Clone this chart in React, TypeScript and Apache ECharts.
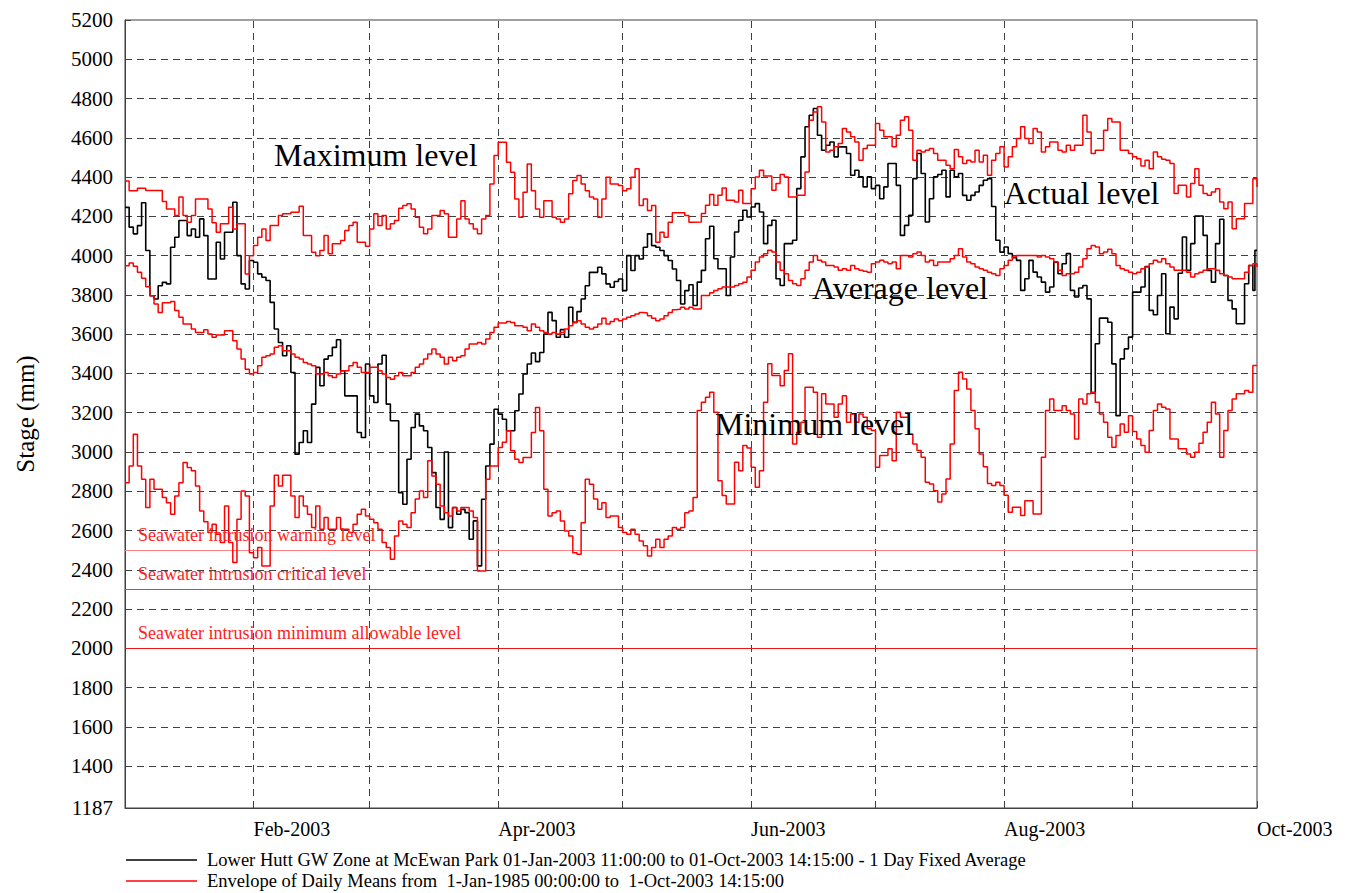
import React, { useEffect, useRef } from 'react';
import * as echarts from 'echarts';

// ---------- axes / labels ----------
const monthStarts = [0, 31, 59, 90, 120, 151, 181, 212, 243, 273];
const gridMonthLines = [31, 59, 90, 120, 151, 181, 212, 243];
const xLabelDays = [31, 90, 151, 212, 273];
const xLabelTexts = ['Feb-2003', 'Apr-2003', 'Jun-2003', 'Aug-2003', 'Oct-2003'];
const yTickValues = [1187, 1400, 1600, 1800, 2000, 2200, 2400, 2600, 2800, 3000, 3200, 3400, 3600, 3800, 4000, 4200, 4400, 4600, 4800, 5000, 5200];
const gridLevelLines = [1400, 1600, 1800, 2000, 2200, 2400, 2600, 2800, 3000, 3200, 3400, 3600, 3800, 4000, 4200, 4400, 4600, 4800, 5000];

const seawaterLevels = [2500, 2300, 2000];
const seawaterLabels = [
  'Seawater intrusion warning level',
  'Seawater intrusion critical level',
  'Seawater intrusion minimum allowable level',
];
const seawaterColors = ['#ff8080', '#ff3030', '#e81818'];

const legendTexts = [
  'Lower Hutt GW Zone at McEwan Park 01-Jan-2003 11:00:00 to 01-Oct-2003 14:15:00 - 1 Day Fixed Average',
  'Envelope of Daily Means from  1-Jan-1985 00:00:00 to  1-Oct-2003 14:15:00',
];

// ---------- data: [day since 1-Jan-2003, stage mm] (step values) ----------
const actualLevel: [number, number][] = [
  [0, 4246], [1, 4145], [2, 4111], [3, 4153], [4, 4269], [5, 4026], [6, 3796], [7, 3779], [8, 3847], [9, 3864],
  [10, 3856], [11, 4043], [12, 4094], [13, 4179], [15, 4102], [16, 4136], [17, 4094], [18, 4187], [19, 4102], [20, 3881],
  [22, 4068], [23, 3983], [24, 4119], [26, 4272], [27, 4000], [28, 3856], [29, 3830], [30, 3975], [31, 3966], [32, 3907],
  [33, 3890], [34, 3873], [35, 3762], [36, 3626], [37, 3558], [38, 3490], [39, 3541], [40, 3405], [41, 2989], [42, 3048],
  [43, 3108], [44, 3048], [45, 3244], [46, 3431], [47, 3337], [48, 3473], [49, 3490], [50, 3533], [51, 3572], [52, 3414],
  [53, 3286], [56, 3099], [57, 3074], [58, 3448], [59, 3286], [60, 3252], [61, 3448], [62, 3493], [63, 3244], [64, 3159],
  [66, 2793], [67, 2734], [68, 2963], [69, 3125], [70, 3193], [71, 3133], [72, 3108], [73, 3023], [74, 2895], [75, 2717],
  [76, 2657], [77, 3000], [78, 2615], [79, 2717], [80, 2683], [81, 2708], [82, 2691], [83, 2556], [84, 2649], [85, 2420],
  [86, 2759], [87, 2929], [88, 3040], [89, 3218], [90, 3193], [91, 3167], [92, 3108], [94, 3210], [95, 3295], [96, 3397],
  [97, 3448], [98, 3504], [99, 3460], [100, 3507], [101, 3601], [102, 3711], [103, 3669], [104, 3584], [105, 3623], [106, 3584],
  [107, 3737], [108, 3660], [109, 3715], [110, 3779], [111, 3847], [112, 3915], [114, 3941], [115, 3907], [116, 3856], [117, 3839],
  [118, 3868], [119, 3881], [120, 3822], [121, 4000], [122, 3924], [123, 4000], [124, 3983], [125, 4043], [126, 4111], [127, 4051],
  [128, 4043], [129, 4026], [130, 4000], [131, 3975], [132, 3932], [133, 3873], [134, 3754], [135, 3822], [136, 3852], [137, 3746],
  [138, 3865], [139, 3925], [140, 4086], [141, 4150], [142, 3984], [143, 3933], [145, 3797], [146, 3993], [147, 4120], [148, 4180],
  [149, 4231], [150, 4197], [151, 4248], [152, 4265], [153, 4222], [154, 4061], [155, 4154], [156, 4180], [157, 3882], [158, 3848],
  [159, 4061], [161, 4078], [162, 4341], [163, 4503], [164, 4656], [165, 4715], [166, 4749], [167, 4613], [168, 4537], [169, 4562],
  [170, 4579], [171, 4503], [172, 4554], [174, 4520], [175, 4409], [176, 4435], [177, 4401], [178, 4350], [179, 4401], [180, 4341],
  [181, 4358], [182, 4290], [183, 4350], [184, 4469], [186, 4358], [187, 4103], [188, 4154], [189, 4205], [190, 4392], [191, 4520],
  [192, 4418], [193, 4171], [194, 4290], [195, 4401], [196, 4413], [197, 4435], [198, 4299], [199, 4435], [200, 4401], [201, 4418],
  [202, 4307], [203, 4282], [204, 4307], [205, 4324], [206, 4358], [207, 4384], [208, 4392], [209, 4250], [210, 4078], [211, 4018],
  [212, 4044], [213, 4010], [214, 3990], [215, 3976], [216, 3823], [217, 3882], [218, 3976], [219, 3916], [220, 3891], [221, 3865],
  [222, 3814], [223, 3840], [224, 3967], [225, 3908], [226, 3959], [227, 4010], [228, 3823], [229, 3789], [230, 3835], [231, 3848],
  [232, 3780], [233, 3301], [234, 3551], [235, 3682], [237, 3661], [238, 3449], [239, 3185], [240, 3474], [241, 3525], [242, 3585],
  [243, 3814], [245, 3840], [246, 3945], [247, 3721], [248, 3699], [249, 3797], [250, 3908], [251, 3602], [252, 3738], [253, 3678],
  [254, 3910], [255, 4095], [256, 3925], [257, 4061], [258, 4202], [260, 4103], [261, 3925], [262, 3865], [263, 4061], [264, 4185],
  [265, 3899], [266, 3772], [267, 3729], [268, 3653], [270, 3857], [271, 3950], [272, 3823], [272.5, 4027], [273, 4027],
];

const maxLevel: [number, number][] = [
  [0, 4380], [1, 4330], [3, 4343], [5, 4332], [9, 4276], [10, 4238], [12, 4204], [13, 4298], [14, 4204], [15, 4170],
  [16, 4204], [17, 4289], [20, 4238], [21, 4167], [22, 4119], [23, 4162], [25, 4247], [26, 4136], [27, 4162], [29, 3907],
  [30, 4000], [31, 4051], [32, 4094], [33, 4136], [34, 4077], [35, 4153], [37, 4204], [38, 4213], [40, 4221], [42, 4252],
  [43, 4102], [45, 4017], [46, 4000], [47, 4026], [48, 4102], [49, 4009], [50, 4060], [52, 4077], [53, 4128], [54, 4153],
  [55, 4170], [56, 4068], [58, 4048], [59, 4136], [60, 4213], [61, 4153], [62, 4204], [63, 4136], [64, 4162], [65, 4179],
  [66, 4241], [67, 4255], [68, 4264], [69, 4238], [70, 4196], [71, 4145], [72, 4111], [73, 4136], [74, 4204], [76, 4230],
  [77, 4213], [78, 4094], [80, 4187], [81, 4280], [82, 4187], [83, 4162], [84, 4136], [85, 4111], [86, 4187], [87, 4204],
  [88, 4365], [89, 4510], [90, 4578], [92, 4476], [93, 4425], [94, 4289], [95, 4196], [96, 4323], [97, 4467], [98, 4331],
  [99, 4238], [100, 4196], [101, 4280], [103, 4196], [104, 4187], [105, 4170], [106, 4187], [107, 4315], [108, 4382], [109, 4408],
  [110, 4365], [111, 4331], [112, 4298], [113, 4289], [114, 4196], [115, 4289], [116, 4399], [117, 4365], [119, 4357], [120, 4331],
  [121, 4340], [122, 4399], [123, 4442], [124, 4255], [125, 4289], [126, 4230], [127, 4255], [128, 4068], [129, 4119], [130, 4094],
  [131, 4170], [132, 4218], [135, 4204], [136, 4170], [137, 4171], [139, 4214], [140, 4256], [141, 4311], [142, 4256], [143, 4307],
  [144, 4345], [145, 4282], [147, 4273], [148, 4333], [149, 4265], [151, 4341], [152, 4401], [153, 4435], [154, 4406], [156, 4333],
  [157, 4367], [158, 4413], [159, 4401], [160, 4299], [162, 4307], [164, 4426], [165, 4690], [166, 4732], [167, 4758], [168, 4681],
  [169, 4528], [170, 4537], [171, 4554], [172, 4571], [173, 4647], [174, 4630], [175, 4605], [176, 4579], [177, 4486], [178, 4545],
  [179, 4562], [181, 4673], [182, 4639], [183, 4605], [185, 4554], [186, 4613], [187, 4690], [188, 4707], [189, 4639], [190, 4486],
  [191, 4537], [192, 4528], [193, 4537], [194, 4545], [195, 4520], [196, 4486], [198, 4460], [199, 4443], [200, 4540], [201, 4503],
  [202, 4469], [203, 4486], [204, 4477], [205, 4537], [206, 4477], [207, 4511], [208, 4409], [209, 4486], [210, 4520], [211, 4554],
  [212, 4452], [213, 4503], [214, 4554], [215, 4596], [216, 4656], [217, 4596], [218, 4571], [219, 4647], [220, 4630], [221, 4528],
  [222, 4554], [223, 4579], [225, 4537], [226, 4528], [227, 4562], [228, 4537], [229, 4562], [231, 4715], [232, 4630], [233, 4520],
  [234, 4537], [236, 4639], [237, 4698], [238, 4681], [240, 4537], [242, 4520], [243, 4503], [244, 4494], [245, 4457], [246, 4486],
  [247, 4443], [248, 4528], [249, 4503], [250, 4491], [251, 4486], [252, 4469], [253, 4316], [254, 4358], [256, 4299], [257, 4367],
  [258, 4443], [259, 4358], [260, 4316], [261, 4307], [262, 4324], [263, 4341], [264, 4273], [265, 4239], [266, 4273], [267, 4137],
  [268, 4188], [270, 4265], [272, 4392], [273, 4350],
];

const averageLevel: [number, number][] = [
  [0, 3949], [1, 3963], [2, 3946], [3, 3915], [4, 3885], [5, 3842], [6, 3796], [7, 3754], [8, 3711], [9, 3760],
  [11, 3766], [12, 3720], [13, 3686], [14, 3652], [16, 3626], [17, 3609], [19, 3623], [20, 3601], [21, 3584], [22, 3596],
  [24, 3618], [26, 3567], [27, 3524], [28, 3473], [29, 3422], [30, 3397], [31, 3405], [32, 3439], [33, 3482], [34, 3490],
  [35, 3499], [36, 3533], [37, 3541], [38, 3516], [40, 3499], [41, 3482], [42, 3473], [43, 3456], [44, 3448], [45, 3439],
  [46, 3397], [48, 3405], [49, 3388], [50, 3380], [51, 3397], [52, 3414], [54, 3439], [55, 3456], [56, 3431], [57, 3405],
  [59, 3431], [61, 3414], [62, 3397], [63, 3380], [64, 3371], [65, 3388], [66, 3405], [67, 3388], [69, 3405], [70, 3431],
  [71, 3448], [72, 3473], [73, 3499], [74, 3524], [75, 3499], [76, 3482], [77, 3448], [78, 3482], [79, 3465], [80, 3482],
  [81, 3490], [82, 3524], [83, 3550], [85, 3558], [86, 3550], [87, 3575], [88, 3609], [89, 3635], [90, 3657], [92, 3664],
  [93, 3660], [94, 3643], [96, 3635], [97, 3618], [98, 3652], [99, 3635], [100, 3618], [101, 3609], [102, 3601], [103, 3609],
  [104, 3601], [105, 3609], [106, 3626], [107, 3643], [108, 3660], [109, 3669], [110, 3652], [111, 3635], [112, 3626], [113, 3635],
  [114, 3652], [115, 3681], [116, 3652], [117, 3664], [118, 3677], [119, 3669], [120, 3677], [121, 3686], [122, 3694], [123, 3703],
  [124, 3711], [125, 3708], [126, 3694], [127, 3681], [128, 3669], [129, 3677], [130, 3694], [131, 3711], [132, 3725], [133, 3728],
  [134, 3737], [135, 3728], [136, 3737], [137, 3728], [139, 3797], [141, 3811], [142, 3823], [143, 3831], [144, 3840], [147, 3848],
  [148, 3857], [149, 3865], [150, 3891], [151, 3925], [152, 3967], [153, 3993], [154, 4010], [155, 4027], [156, 4018], [157, 3967],
  [158, 3925], [159, 3908], [160, 3874], [161, 3857], [162, 3848], [163, 3882], [164, 3925], [165, 3967], [166, 4001], [167, 3976],
  [168, 3967], [169, 3950], [171, 3942], [172, 3925], [173, 3933], [174, 3925], [175, 3950], [176, 3933], [177, 3925], [178, 3920],
  [179, 3916], [180, 3959], [181, 3967], [182, 3976], [183, 3967], [184, 3959], [185, 3967], [186, 3933], [187, 4001], [189, 3993],
  [190, 4010], [191, 4018], [192, 4001], [193, 3967], [194, 3976], [195, 3950], [196, 3967], [199, 3984], [200, 4001], [201, 4035],
  [202, 3993], [203, 3967], [204, 3959], [205, 3942], [206, 3933], [207, 3925], [208, 3916], [209, 3908], [210, 3899], [211, 3933],
  [212, 3950], [213, 3976], [214, 3993], [215, 4001], [220, 3993], [221, 4001], [222, 3993], [223, 3984], [224, 3967], [225, 3925],
  [226, 3899], [227, 3908], [229, 3916], [230, 3942], [231, 3984], [232, 4035], [233, 4052], [234, 4044], [235, 4010], [236, 4018],
  [237, 4032], [238, 4010], [239, 3950], [240, 3933], [241, 3925], [242, 3916], [243, 3908], [244, 3916], [245, 3933], [246, 3942],
  [247, 3959], [248, 3976], [249, 3967], [250, 3984], [251, 3959], [252, 3942], [253, 3925], [256, 3916], [257, 3891], [258, 3908],
  [259, 3916], [260, 3925], [261, 3933], [263, 3925], [264, 3908], [265, 3899], [266, 3891], [267, 3882], [270, 3916], [271, 3950],
  [272, 3959], [273, 3942],
];

const minLevel: [number, number][] = [
  [0, 2844], [1, 2929], [2, 3091], [3, 2929], [4, 2861], [5, 2717], [6, 2861], [7, 2810], [9, 2768], [10, 2742],
  [11, 2683], [12, 2776], [13, 2844], [14, 2946], [15, 2921], [16, 2904], [17, 2827], [18, 2700], [19, 2645], [20, 2590],
  [21, 2632], [22, 2581], [23, 2539], [24, 2725], [25, 2539], [26, 2437], [27, 2657], [28, 2802], [29, 2776], [30, 2487],
  [31, 2462], [32, 2513], [33, 2420], [35, 2725], [36, 2881], [37, 2827], [38, 2881], [40, 2776], [41, 2666], [42, 2776],
  [43, 2725], [44, 2683], [45, 2615], [46, 2725], [47, 2606], [48, 2666], [49, 2606], [51, 2666], [52, 2606], [54, 2590],
  [55, 2632], [56, 2683], [57, 2708], [58, 2674], [59, 2657], [60, 2640], [61, 2606], [62, 2539], [63, 2513], [64, 2454],
  [65, 2572], [66, 2649], [67, 2632], [68, 2615], [69, 2691], [70, 2760], [71, 2802], [72, 2768], [73, 2955], [74, 2878],
  [75, 2836], [76, 2725], [77, 2691], [78, 2674], [79, 2717], [80, 2700], [81, 2717], [83, 2700], [84, 2666], [85, 2394],
  [87, 2861], [88, 2929], [90, 3023], [91, 3050], [92, 3108], [93, 3006], [94, 2963], [95, 2946], [96, 2972], [98, 3099],
  [99, 3227], [100, 3108], [101, 2810], [102, 2674], [103, 2691], [104, 2700], [105, 2649], [106, 2598], [107, 2572], [108, 2487],
  [109, 2479], [110, 2640], [111, 2861], [112, 2836], [113, 2760], [114, 2708], [115, 2742], [116, 2666], [117, 2674], [119, 2615],
  [120, 2590], [121, 2581], [122, 2606], [123, 2581], [124, 2547], [125, 2522], [126, 2470], [127, 2513], [128, 2556], [129, 2513],
  [130, 2556], [131, 2572], [132, 2615], [133, 2606], [134, 2615], [135, 2691], [136, 2700], [137, 2768], [138, 3211], [139, 3253],
  [140, 3279], [141, 3304], [142, 3202], [143, 2854], [144, 2778], [145, 2735], [147, 2948], [148, 2905], [149, 3033], [150, 3020],
  [151, 2922], [152, 2820], [153, 2905], [154, 3253], [155, 3449], [156, 3389], [158, 3338], [159, 3415], [160, 3500], [161, 3041],
  [162, 3101], [163, 3152], [164, 3330], [166, 3304], [167, 3075], [168, 3296], [169, 3245], [171, 3177], [172, 3245], [173, 3287],
  [174, 3152], [175, 3194], [176, 3152], [177, 3194], [178, 3177], [179, 3118], [180, 3109], [181, 2922], [182, 2982], [184, 3016],
  [185, 2956], [186, 3202], [187, 3177], [189, 3092], [190, 3041], [191, 3007], [192, 2973], [193, 2846], [194, 2837], [195, 2803],
  [196, 2745], [197, 2786], [198, 2863], [199, 3041], [200, 3313], [201, 3406], [202, 3372], [203, 3321], [204, 3211], [205, 3118],
  [206, 2990], [207, 2925], [208, 2840], [209, 2829], [210, 2846], [211, 2829], [212, 2780], [213, 2693], [214, 2718], [216, 2676],
  [217, 2752], [219, 2684], [221, 2973], [222, 3211], [223, 3270], [224, 3211], [226, 3236], [227, 3211], [228, 3194], [229, 3066],
  [230, 3270], [231, 3245], [232, 3296], [233, 3304], [234, 3253], [235, 3194], [236, 3152], [237, 3075], [238, 3024], [239, 3084],
  [240, 3143], [241, 3101], [242, 3185], [243, 3105], [244, 3066], [245, 3033], [246, 2999], [247, 3109], [248, 3211], [249, 3245],
  [250, 3228], [251, 3219], [252, 3066], [254, 3016], [256, 2990], [257, 2973], [258, 2999], [259, 3045], [260, 3101], [261, 3152],
  [262, 3253], [263, 3194], [264, 2973], [265, 3109], [266, 3211], [267, 3270], [268, 3296], [270, 3313], [271, 3304], [272, 3440],
  [273, 3440],
];

const SERIF = 'Liberation Serif';
const GRID_COLOR = '#404040';

export default function App() {
  const ref = useRef<HTMLDivElement>(null);

  useEffect(() => {
    if (!ref.current) return;
    const chart = echarts.init(ref.current, undefined, { renderer: 'svg' });
    const labelMap: Record<number, string> = {};
    xLabelDays.forEach((d, i) => { labelMap[d] = xLabelTexts[i]; });

    const stepSeries = (name: string, data: [number, number][], color: string, width: number, z: number) => ({
      type: 'line',
      name,
      data,
      step: 'end',
      showSymbol: false,
      symbol: 'none',
      silent: true,
      z,
      lineStyle: { color, width },
      itemStyle: { color },
    });

    const annotation = (text: string, x: number, y: number, size: number, color: string) => ({
      type: 'text',
      x,
      y,
      silent: true,
      z: 100,
      style: {
        text,
        fill: color,
        font: `${size}px ${SERIF}`,
        textAlign: 'left',
        textVerticalAlign: 'middle',
      },
    });

    const option: any = {
      animation: false,
      backgroundColor: '#ffffff',
      textStyle: { fontFamily: SERIF },
      grid: {
        left: 125, right: 97, top: 20, bottom: 85,
        show: true, borderColor: GRID_COLOR, borderWidth: 1,
        outerBoundsMode: 'none',
      },
      xAxis: {
        type: 'value',
        min: 0,
        max: 273,
        axisLine: { show: true, lineStyle: { color: GRID_COLOR, width: 1 } },
        axisTick: { show: true, inside: true, length: 7, customValues: monthStarts, lineStyle: { color: GRID_COLOR } },
        axisLabel: {
          customValues: xLabelDays,
          formatter: (v: number) => labelMap[v] ?? '',
          align: 'left',
          margin: 11,
          fontFamily: SERIF,
          fontSize: 20,
          color: '#000',
          showMinLabel: true,
          showMaxLabel: true,
        },
        splitLine: { show: false },
      },
      yAxis: {
        type: 'value',
        min: 1187,
        max: 5200,
        axisLine: { show: true, lineStyle: { color: GRID_COLOR, width: 1 } },
        axisTick: { show: true, inside: true, length: 6, customValues: yTickValues, lineStyle: { color: GRID_COLOR } },
        axisLabel: {
          customValues: yTickValues,
          formatter: (v: number) => String(Math.round(v)),
          margin: 12,
          fontFamily: SERIF,
          fontSize: 21,
          color: '#000',
          showMinLabel: true,
          showMaxLabel: true,
        },
        splitLine: { show: false },
      },
      series: [
        {
          type: 'line',
          name: 'grid',
          data: [[0, 1187]],
          showSymbol: false,
          symbol: 'none',
          silent: true,
          z: 1,
          lineStyle: { opacity: 0 },
          markLine: {
            silent: true,
            symbol: ['none', 'none'],
            animation: false,
            z: 1,
            label: { show: false },
            lineStyle: { color: GRID_COLOR, width: 1, type: [7, 5] },
            data: [
              ...gridMonthLines.map((d) => ({ xAxis: d })),
              ...gridLevelLines.map((v) => ({ yAxis: v })),
            ],
          },
        },
        {
          type: 'line',
          name: 'seawater',
          data: [[0, 1187]],
          showSymbol: false,
          symbol: 'none',
          silent: true,
          z: 2,
          lineStyle: { opacity: 0 },
          markLine: {
            silent: true,
            symbol: ['none', 'none'],
            animation: false,
            z: 2,
            label: { show: false },
            data: seawaterLevels.map((v, i) => ({
              yAxis: v,
              lineStyle: { color: seawaterColors[i], width: 1.2, type: 'solid' },
            })),
          },
        },
        stepSeries('Actual level', actualLevel, '#000000', 1.6, 3),
        stepSeries('Average level', averageLevel, '#ff0000', 1.5, 4),
        stepSeries('Minimum level', minLevel, '#ff0000', 1.5, 4),
        stepSeries('Maximum level', maxLevel, '#ff0000', 1.5, 4),
      ],
      graphic: [
        annotation('Maximum level', 274, 154.5, 32, '#000'),
        annotation('Actual level', 1004, 192.5, 32, '#000'),
        annotation('Average level', 812, 288, 32, '#000'),
        annotation('Minimum level', 715, 424, 32, '#000'),
        ...seawaterLabels.map((t, i) => annotation(t, 138, [535, 574, 633][i], 18, '#ff2020')),
        {
          type: 'text',
          x: 25,
          y: 414,
          rotation: Math.PI / 2,
          silent: true,
          style: {
            text: 'Stage (mm)',
            fill: '#000',
            font: `25px ${SERIF}`,
            textAlign: 'center',
            textVerticalAlign: 'middle',
          },
        },
        {
          type: 'line',
          silent: true,
          shape: { x1: 126, y1: 860, x2: 197, y2: 860 },
          style: { stroke: '#000', lineWidth: 1.5 },
        },
        {
          type: 'line',
          silent: true,
          shape: { x1: 126, y1: 881, x2: 197, y2: 881 },
          style: { stroke: '#ff0000', lineWidth: 1.5 },
        },
        annotation(legendTexts[0], 207, 860, 18.5, '#000'),
        annotation(legendTexts[1], 207, 881, 18.5, '#000'),
      ],
    };

    chart.setOption(option);
    return () => chart.dispose();
  }, []);

  return (
    <div
      ref={ref}
      style={{ position: 'fixed', left: 0, top: 0, width: 1354, height: 893, background: '#fff' }}
    />
  );
}
